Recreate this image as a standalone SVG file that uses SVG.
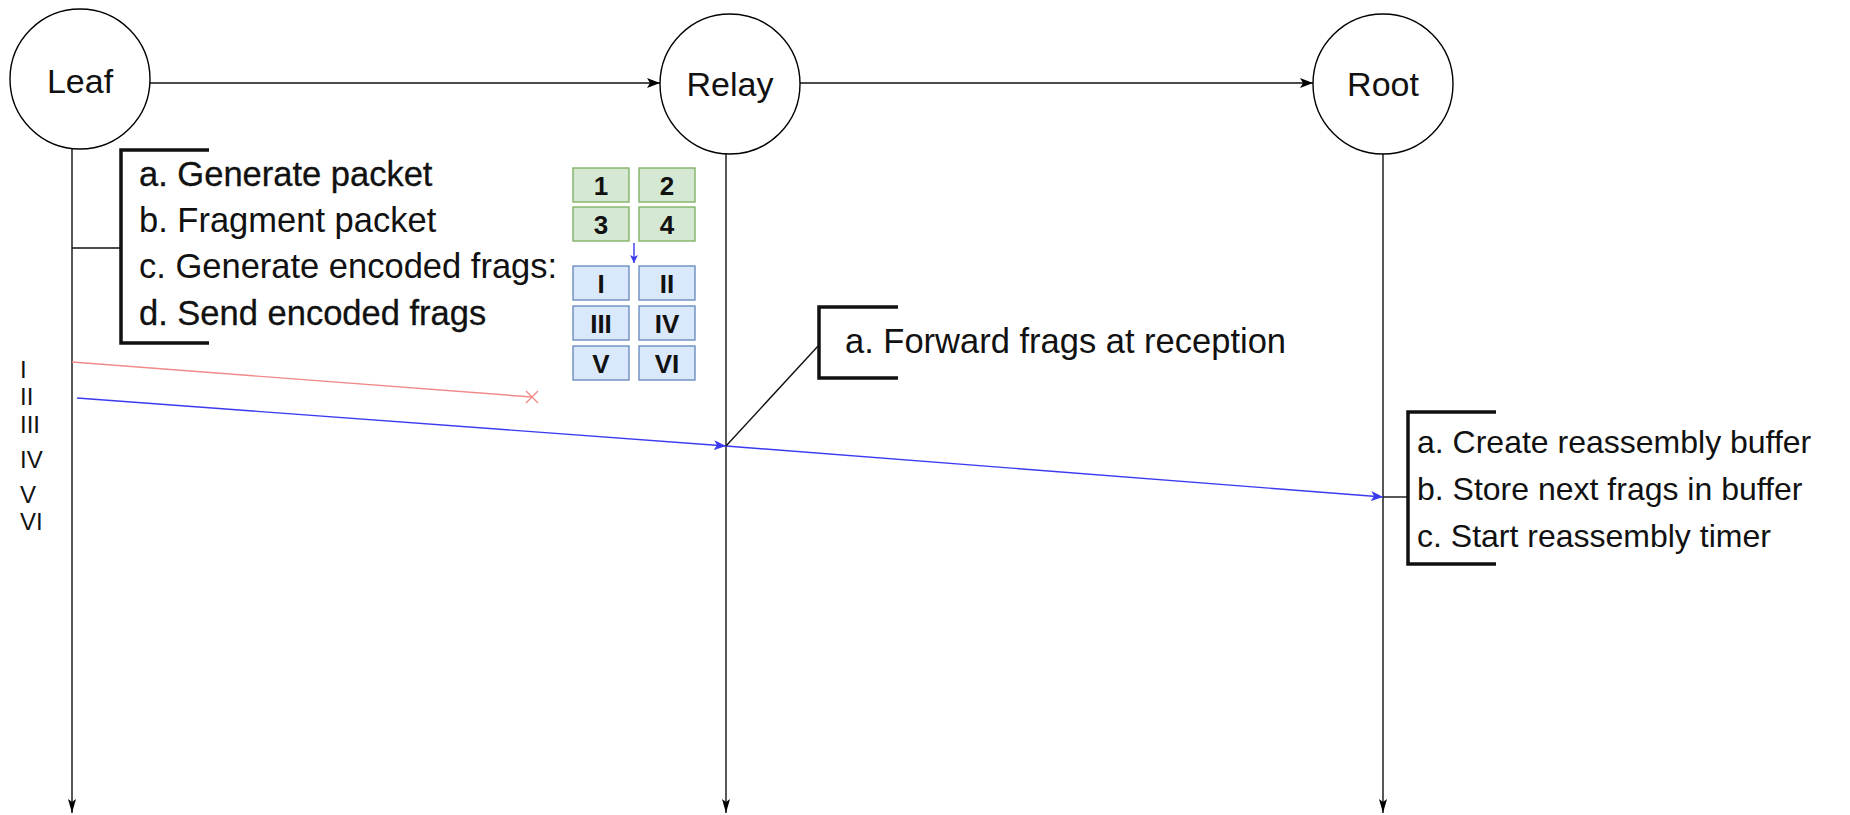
<svg xmlns="http://www.w3.org/2000/svg" width="1850" height="815" viewBox="0 0 1850 815">
  <style>
    .node { fill: #ffffff; stroke: #000000; stroke-width: 1.4; }
    .label { font-family: "Liberation Sans", Arial, sans-serif; fill: #111111; }
    .title { font-size: 34px; text-anchor: middle; }
    .step { font-size: 34.5px; }
    .step-strong { stroke: #111111; stroke-width: 0.3; }
    .step-sm { font-size: 32px; }
    .roman { font-size: 24px; }
    .frag { font-family: "Liberation Sans", Arial, sans-serif; font-weight: bold; font-size: 26px; text-anchor: middle; fill: #111111; }
    .bracket { fill: none; stroke: #111111; stroke-width: 3.5; }
    .thin { fill: none; stroke: #111111; stroke-width: 1.4; }
    .msg { fill: none; stroke-width: 1.4; }
    .plain { fill: #d5e8d4; stroke: #82b366; stroke-width: 1.4; }
    .coded { fill: #dae8fc; stroke: #6c8ebf; stroke-width: 1.4; }
  </style>
  <defs>
    <marker id="arrowBlack" viewBox="0 0 13 10" refX="13" refY="5" markerWidth="13" markerHeight="10" markerUnits="userSpaceOnUse" orient="auto">
      <path d="M0,0 L13,5 L0,10 L3,5 Z" fill="#000000"/>
    </marker>
    <marker id="arrowLife" viewBox="0 0 14 8" refX="14" refY="4" markerWidth="14" markerHeight="8" markerUnits="userSpaceOnUse" orient="auto">
      <path d="M0,0 L14,4 L0,8 L3,4 Z" fill="#000000"/>
    </marker>
    <marker id="arrowBlue" viewBox="0 0 12 10" refX="12" refY="5" markerWidth="12" markerHeight="10" markerUnits="userSpaceOnUse" orient="auto">
      <path d="M0,0 L12,5 L0,10 L3,5 Z" fill="#3a3af0"/>
    </marker>
    <marker id="arrowBlueSmall" viewBox="0 0 8 8" refX="8" refY="4" markerWidth="8" markerHeight="8" markerUnits="userSpaceOnUse" orient="auto">
      <path d="M0,0 L8,4 L0,8 L2,4 Z" fill="#3a3af0"/>
    </marker>
  </defs>

  <rect width="1850" height="815" fill="#ffffff"/>

  <!-- lifelines and messages -->
  <g id="connectors">
    <line class="thin" x1="72" y1="148" x2="72" y2="813" marker-end="url(#arrowLife)"/>
    <line class="thin" x1="726" y1="154" x2="726" y2="813" marker-end="url(#arrowLife)"/>
    <line class="thin" x1="1383" y1="154" x2="1383" y2="813" marker-end="url(#arrowLife)"/>

    <line class="thin" x1="150" y1="83" x2="660" y2="83" marker-end="url(#arrowBlack)"/>
    <line class="thin" x1="800" y1="83" x2="1313" y2="83" marker-end="url(#arrowBlack)"/>

    <!-- lost fragment -->
    <line class="msg" stroke="#f08a8a" x1="72" y1="362" x2="532" y2="397"/>
    <path class="msg" stroke="#f08a8a" d="M526,391 L538,403 M538,391 L526,403"/>

    <!-- delivered fragment, forwarded by relay -->
    <line class="msg" stroke="#3a3af0" x1="77" y1="398" x2="726" y2="446" marker-end="url(#arrowBlue)"/>
    <line class="msg" stroke="#3a3af0" x1="726" y1="446" x2="1383" y2="497" marker-end="url(#arrowBlue)"/>

    <!-- note attachments -->
    <line class="thin" x1="72" y1="248" x2="121" y2="248"/>
    <line class="thin" x1="726" y1="446" x2="819" y2="345"/>
    <line class="thin" x1="1383" y1="497" x2="1408" y2="497"/>

    <!-- encoding step -->
    <line class="msg" stroke="#3a3af0" stroke-width="2.2" x1="634" y1="243" x2="634" y2="263" marker-end="url(#arrowBlueSmall)"/>
  </g>

  <g id="leaf">
    <circle class="node" cx="80" cy="79" r="70"/>
    <text class="label title" x="80" y="93">Leaf</text>
  </g>

  <g id="relay">
    <circle class="node" cx="730" cy="84" r="70"/>
    <text class="label title" x="730" y="96">Relay</text>
  </g>

  <g id="root">
    <circle class="node" cx="1383" cy="84" r="70"/>
    <text class="label title" x="1383" y="96">Root</text>
  </g>

  <g id="leaf-steps">
    <path class="bracket" d="M209,150 H121 V343 H209"/>
    <text class="label step step-strong" x="139" y="186">a. Generate packet</text>
    <text class="label step" x="139" y="232">b. Fragment packet</text>
    <text class="label step" x="139" y="278">c. Generate encoded frags:</text>
    <text class="label step step-strong" x="139" y="325">d. Send encoded frags</text>
  </g>

  <g id="fragments">
    <rect class="plain" x="573" y="168" width="56" height="34"/>
    <rect class="plain" x="639" y="168" width="56" height="34"/>
    <rect class="plain" x="573" y="207" width="56" height="34"/>
    <rect class="plain" x="639" y="207" width="56" height="34"/>
    <text class="frag" x="601" y="195">1</text>
    <text class="frag" x="667" y="195">2</text>
    <text class="frag" x="601" y="234">3</text>
    <text class="frag" x="667" y="234">4</text>
  </g>

  <g id="encoded-fragments">
    <rect class="coded" x="573" y="266" width="56" height="34"/>
    <rect class="coded" x="639" y="266" width="56" height="34"/>
    <rect class="coded" x="573" y="306" width="56" height="34"/>
    <rect class="coded" x="639" y="306" width="56" height="34"/>
    <rect class="coded" x="573" y="346" width="56" height="34"/>
    <rect class="coded" x="639" y="346" width="56" height="34"/>
    <text class="frag" x="601" y="293">I</text>
    <text class="frag" x="667" y="293">II</text>
    <text class="frag" x="601" y="333">III</text>
    <text class="frag" x="667" y="333">IV</text>
    <text class="frag" x="601" y="373">V</text>
    <text class="frag" x="667" y="373">VI</text>
  </g>

  <g id="sent-fragments">
    <text class="label roman" x="20" y="378">I</text>
    <text class="label roman" x="20" y="405">II</text>
    <text class="label roman" x="20" y="433">III</text>
    <text class="label roman" x="20" y="468">IV</text>
    <text class="label roman" x="20" y="503">V</text>
    <text class="label roman" x="20" y="530">VI</text>
  </g>

  <g id="relay-steps">
    <path class="bracket" d="M898,307 H819 V378 H898"/>
    <text class="label step" x="845" y="353">a. Forward frags at reception</text>
  </g>

  <g id="root-steps">
    <path class="bracket" d="M1496,412 H1408 V564 H1496"/>
    <text class="label step-sm" x="1417" y="453">a. Create reassembly buffer</text>
    <text class="label step-sm" x="1417" y="500">b. Store next frags in buffer</text>
    <text class="label step-sm" x="1417" y="547">c. Start reassembly timer</text>
  </g>
</svg>
